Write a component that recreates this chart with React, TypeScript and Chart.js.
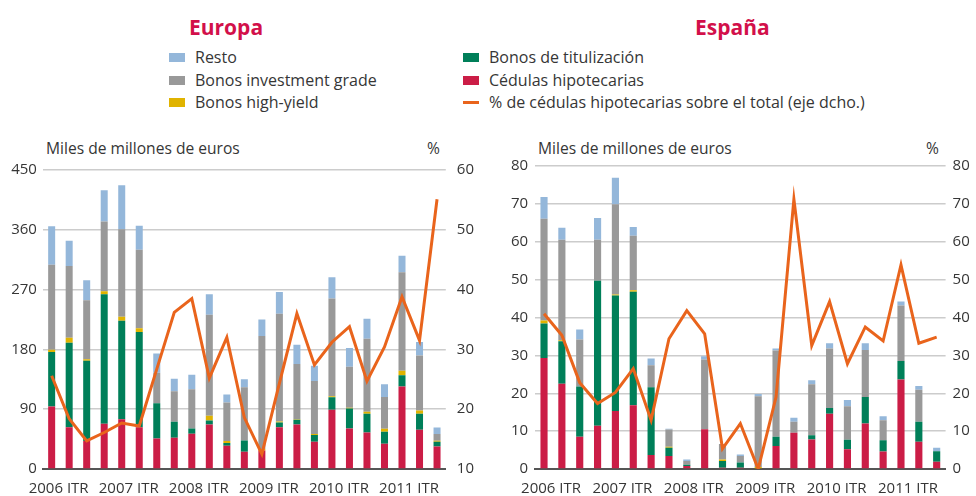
import React, { useEffect, useRef } from "react";
import { Chart, registerables } from "chart.js";

Chart.register(...registerables);

const FONT = "'Open Sans', 'DejaVu Sans', sans-serif";

const quarters = [
  "2006 ITR", "2006 IITR", "2006 IIITR", "2006 IVTR",
  "2007 ITR", "2007 IITR", "2007 IIITR", "2007 IVTR",
  "2008 ITR", "2008 IITR", "2008 IIITR", "2008 IVTR",
  "2009 ITR", "2009 IITR", "2009 IIITR", "2009 IVTR",
  "2010 ITR", "2010 IITR", "2010 IIITR", "2010 IVTR",
  "2011 ITR", "2011 IITR", "2011 IIITR",
];

// Europa (miles de millones de euros)
const euCedulas = [94, 63, 42, 68, 75, 63, 46, 47, 53, 67, 35, 26, 28, 63, 67, 41, 89, 61, 55, 38, 124, 59, 34];
const euTitulizacion = [82, 127, 121, 195, 148, 143, 53, 24, 8, 6, 4, 17, 0, 7, 7, 10, 19, 30, 28, 18, 17, 24, 7];
const euHighYield = [3.5, 7.5, 2, 4.5, 6, 6, 0, 0, 0, 7, 3, 0, 2, 1.5, 1, 1.5, 1.5, 1, 3, 4.5, 7, 5, 1.5];
const euInvGrade = [128, 108, 89, 105, 132, 118, 46, 46, 59, 152, 58, 80, 170, 162, 83, 80, 147, 62, 110, 48, 148, 83, 10];
const euResto = [58, 38, 30, 47, 66, 36, 29, 19, 22, 31, 12, 12, 25, 33, 29, 23, 32, 28, 30, 19, 25, 20, 10];
const euPct = [25.6, 18.4, 14.7, 16.1, 17.7, 17.2, 26.7, 36.2, 38.5, 25.2, 32.0, 18.6, 12.5, 24.3, 36.0, 27.4, 31.2, 33.8, 24.7, 30.4, 38.8, 31.5, 55.1];

// España (miles de millones de euros)
const esCedulas = [29.3, 22.5, 8.5, 11.4, 15.3, 16.8, 3.7, 3.4, 0.8, 10.5, 0.3, 0.3, 0, 6.1, 9.6, 7.8, 14.6, 5.2, 12.0, 4.6, 23.6, 7.2, 1.9];
const esTitulizacion = [9.1, 11.2, 13.3, 38.3, 30.5, 30.0, 17.9, 2.2, 0.3, 0, 1.8, 1.4, 0, 2.4, 0, 1.1, 1.5, 2.5, 7.0, 3.0, 4.9, 5.3, 2.8];
const esHighYield = [0.8, 0.3, 0, 0, 0.3, 0.4, 0, 0.3, 0, 0, 0.4, 0, 0.5, 0, 0, 0, 0, 0, 0, 0, 0, 0, 0];
const esInvGrade = [26.9, 26.5, 12.4, 10.8, 23.8, 14.4, 5.8, 4.5, 1.0, 18.4, 4.1, 1.7, 18.7, 22.8, 2.9, 13.5, 15.7, 8.9, 12.4, 5.3, 14.7, 8.4, 0];
const esResto = [5.7, 3.2, 2.6, 5.8, 7.0, 2.3, 1.8, 0.2, 0.4, 0.9, 0, 0.4, 0.6, 0.5, 1.0, 1.0, 1.4, 1.6, 1.8, 1.0, 1.0, 1.0, 0.9];
const esPct = [41.0, 35.3, 22.8, 17.3, 20.2, 26.5, 12.9, 34.4, 41.8, 35.7, 5.4, 12.0, 0, 19.0, 71.2, 32.6, 44.2, 27.8, 37.5, 33.8, 53.9, 33.2, 34.8];

const leftTicksEu = { min: 0, max: 450, step: 90 };
const rightTicksEu = { min: 10, max: 60, step: 10 };
const leftTicksEs = { min: 0, max: 80, step: 10 };
const rightTicksEs = { min: 0, max: 80, step: 10 };

const C_RED = "#CB1D46";
const C_GREEN = "#007F59";
const C_YELLOW = "#E0B300";
const C_GRAY = "#999999";
const C_BLUE = "#94B7DA";
const C_ORANGE = "#E9641C";
const C_TITLE = "#D2104A";
const C_TEXT = "#363636";

type PanelProps = {
  left: number;
  width: number;
  yWidth: number;
  y1Width: number;
  series: number[][];
  pct: number[];
  lt: { min: number; max: number; step: number };
  rt: { min: number; max: number; step: number };
  lPad: number;
  rPad: number;
};

function Panel(p: PanelProps) {
  const ref = useRef<HTMLCanvasElement | null>(null);
  useEffect(() => {
    if (!ref.current) return;
    const colors = [C_RED, C_GREEN, C_YELLOW, C_GRAY, C_BLUE];
    const names = ["Cédulas hipotecarias", "Bonos de titulización", "Bonos high-yield", "Bonos investment grade", "Resto"];
    const barSets = p.series.map((d, i) => ({
      type: "bar" as const,
      label: names[i],
      data: d,
      backgroundColor: colors[i],
      borderWidth: 0,
      yAxisID: "y",
      stack: "s",
      order: 1,
      categoryPercentage: 1,
      barPercentage: 0.4,
    }));
    const chart = new Chart(ref.current, {
      type: "bar",
      data: {
        labels: quarters,
        datasets: [
          ...barSets,
          {
            type: "line" as const,
            label: "% de cédulas hipotecarias sobre el total (eje dcho.)",
            data: p.pct,
            borderColor: C_ORANGE,
            borderWidth: 3,
            pointRadius: 0,
            tension: 0,
            yAxisID: "y1",
            order: 0,
          } as any,
        ],
      },
      options: {
        animation: false,
        responsive: false,
        maintainAspectRatio: false,
        layout: { padding: { top: 15, left: 0, right: 0, bottom: 0 } },
        plugins: { legend: { display: false }, tooltip: { enabled: false } },
        scales: {
          x: {
            stacked: true,
            grid: { display: false },
            border: { display: true, color: "#555555", width: 2 },
            ticks: {
              autoSkip: false,
              maxRotation: 0,
              minRotation: 0,
              padding: 3,
              labelOffset: 7,
              color: C_TEXT,
              font: { family: FONT, size: 15 },
              callback: (_v: any, i: number) => (i % 4 === 0 ? quarters[i] : ""),
            },
            afterFit: (s: any) => {
              s.height = 27;
            },
          },
          y: {
            stacked: true,
            position: "left",
            min: p.lt.min,
            max: p.lt.max,
            grid: { color: "#CCCCCC", lineWidth: 1.5, drawTicks: false },
            border: { display: false },
            ticks: {
              stepSize: p.lt.step,
              padding: p.lPad,
              color: C_TEXT,
              font: { family: FONT, size: 15 },
            },
            afterFit: (s: any) => {
              s.width = p.yWidth;
            },
          },
          y1: {
            position: "right",
            min: p.rt.min,
            max: p.rt.max,
            grid: { display: false, drawTicks: false },
            border: { display: false },
            ticks: {
              stepSize: p.rt.step,
              padding: p.rPad,
              color: C_TEXT,
              font: { family: FONT, size: 15 },
            },
            afterFit: (s: any) => {
              s.width = p.y1Width;
            },
          },
        },
      } as any,
    });
    return () => chart.destroy();
  }, []);
  return (
    <canvas
      ref={ref}
      width={p.width}
      height={346}
      style={{ position: "absolute", left: p.left, top: 150, width: p.width, height: 346 }}
    />
  );
}

const txt: React.CSSProperties = {
  position: "absolute",
  fontFamily: FONT,
  color: C_TEXT,
  whiteSpace: "nowrap",
  lineHeight: "20px",
};

function LegendItem({ x, y, color, label, line }: { x: number; y: number; color: string; label: string; line?: boolean }) {
  return (
    <>
      {line ? (
        <div style={{ position: "absolute", left: x, top: y - 1.5, width: 16, height: 3, background: color }} />
      ) : (
        <div style={{ position: "absolute", left: x, top: y - 4.5, width: 16, height: 9, background: color }} />
      )}
      <div style={{ ...txt, left: x + 26, top: y - 10, fontSize: 16 }}>{label}</div>
    </>
  );
}

export default function App() {
  return (
    <div style={{ position: "absolute", left: 0, top: 0, width: 976, height: 496, background: "#fff" }}>
      <div style={{ ...txt, left: 189, top: 13, fontSize: 21, fontWeight: 700, color: C_TITLE, lineHeight: "28px" }}>Europa</div>
      <div style={{ ...txt, left: 695, top: 13, fontSize: 21, fontWeight: 700, color: C_TITLE, lineHeight: "28px" }}>España</div>

      <LegendItem x={169} y={57} color={C_BLUE} label="Resto" />
      <LegendItem x={169} y={80} color={C_GRAY} label="Bonos investment grade" />
      <LegendItem x={169} y={102} color={C_YELLOW} label="Bonos high-yield" />
      <LegendItem x={463} y={57} color={C_GREEN} label="Bonos de titulización" />
      <LegendItem x={463} y={80} color={C_RED} label="Cédulas hipotecarias" />
      <LegendItem x={463} y={102} color={C_ORANGE} label="% de cédulas hipotecarias sobre el total (eje dcho.)" line />

      <div style={{ ...txt, left: 46, top: 138, fontSize: 15.6 }}>Miles de millones de euros</div>
      <div style={{ ...txt, left: 427, top: 138, fontSize: 15.6 }}>%</div>
      <div style={{ ...txt, left: 538, top: 138, fontSize: 15.6 }}>Miles de millones de euros</div>
      <div style={{ ...txt, left: 926, top: 138, fontSize: 15.6 }}>%</div>

      <Panel
        left={0}
        width={490}
        yWidth={42.9}
        y1Width={44.2}
        series={[euCedulas, euTitulizacion, euHighYield, euInvGrade, euResto]}
        pct={euPct}
        lt={leftTicksEu}
        rt={rightTicksEu}
        lPad={6}
        rPad={11}
      />
      <Panel
        left={490}
        width={486}
        yWidth={45.1}
        y1Width={30.4}
        series={[esCedulas, esTitulizacion, esHighYield, esInvGrade, esResto]}
        pct={esPct}
        lt={leftTicksEs}
        rt={rightTicksEs}
        lPad={7}
        rPad={7}
      />
    </div>
  );
}
